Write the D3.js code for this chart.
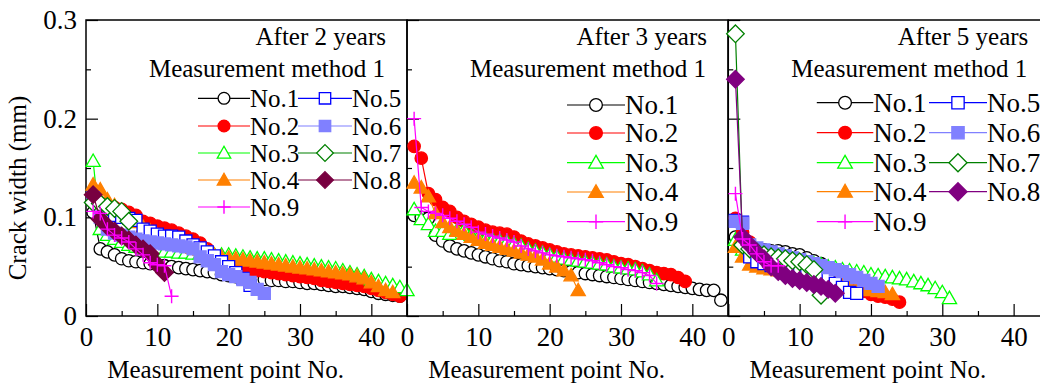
<!DOCTYPE html>
<html>
<head>
<meta charset="utf-8">
<script src="https://cdn.jsdelivr.net/npm/d3@7"></script>
<style>
  body { margin: 0; background: #fff; }
  svg { display: block; font-family: "Liberation Serif", "Times New Roman", serif; }
</style>
</head>
<body>
<svg id="chart" width="1040" height="385"></svg>
<script>
// axis ticks / labels
const xTicks = [0, 10, 20, 30, 40];
const xMinorTicks = [5, 15, 25, 35];
const yTicks = [0, 0.1, 0.2, 0.3];
const yMinorTicks = [0.05, 0.15, 0.25];
const yearLabels = ["After 2 years", "After 3 years", "After 5 years"];
const methodLabel = "Measurement method 1";
const xTitle = "Measurement point No.";
const yTitle = "Crack width (mm)";

// after 2 years (crack width, mm, point 1..n)
const y2No1 = [0.105,0.068,0.065,0.062,0.058,0.056,0.055,0.054,0.053,0.052,0.051,0.050,0.049,0.048,0.047,0.046,0.045,0.044,0.042,0.041,0.040,0.039,0.038,0.037,0.037,0.036,0.036,0.035,0.035,0.034,0.033,0.033,0.032,0.031,0.030,0.030,0.029,0.028,0.027,0.025,0.023,0.022,0.021,0.020];
const y2No2 = [0.120,0.115,0.112,0.110,0.108,0.105,0.102,0.096,0.094,0.091,0.089,0.087,0.084,0.081,0.078,0.074,0.068,0.060,0.055,0.052,0.050,0.048,0.047,0.046,0.045,0.044,0.043,0.042,0.041,0.040,0.039,0.038,0.036,0.035,0.034,0.033,0.032,0.031,0.030,0.028,0.026,0.024,0.022,0.020];
const y2No3 = [0.157,0.088,0.082,0.078,0.075,0.072,0.070,0.068,0.067,0.066,0.065,0.065,0.064,0.064,0.063,0.063,0.063,0.062,0.062,0.062,0.061,0.060,0.059,0.058,0.058,0.057,0.056,0.055,0.054,0.053,0.052,0.051,0.050,0.049,0.048,0.046,0.044,0.042,0.040,0.037,0.035,0.033,0.031,0.029,0.026];
const y2No4 = [0.133,0.128,0.118,0.112,0.106,0.100,0.095,0.090,0.086,0.082,0.079,0.076,0.073,0.071,0.069,0.067,0.065,0.062,0.060,0.059,0.058,0.057,0.056,0.055,0.054,0.053,0.052,0.051,0.050,0.049,0.048,0.047,0.046,0.045,0.044,0.043,0.042,0.040,0.038,0.034,0.030,0.026,0.024];
const y2No5 = [0.120,0.112,0.105,0.102,0.100,0.099,0.097,0.088,0.086,0.083,0.081,0.081,0.080,0.076,0.072,0.069,0.065,0.061,0.055,0.050,0.044,0.038,0.031];
const y2No6 = [0.120,0.100,0.088,0.084,0.082,0.080,0.078,0.076,0.075,0.074,0.073,0.072,0.071,0.070,0.068,0.060,0.056,0.052,0.045,0.042,0.040,0.037,0.034,0.027,0.023];
const y2No7 = [0.115,0.114,0.111,0.109,0.106,0.096];
const y2No8 = [0.123,0.098,0.091,0.086,0.081,0.077,0.072,0.068,0.063,0.052,0.044];
const y2No9 = [0.106,0.104,0.088,0.082,0.079,0.075,0.068,0.062,0.054,0.052,0.051,0.020];

// after 3 years
const y3No1 = [0.102,0.100,0.099,0.082,0.076,0.071,0.068,0.066,0.064,0.062,0.060,0.058,0.056,0.055,0.053,0.052,0.051,0.050,0.049,0.048,0.047,0.046,0.045,0.044,0.043,0.042,0.041,0.040,0.039,0.038,0.037,0.036,0.035,0.034,0.033,0.032,0.031,0.030,0.029,0.028,0.027,0.026,0.026,0.016];
const y3No2 = [0.172,0.160,0.124,0.118,0.110,0.106,0.100,0.096,0.093,0.090,0.087,0.085,0.084,0.083,0.080,0.076,0.073,0.071,0.069,0.067,0.065,0.063,0.062,0.061,0.060,0.059,0.058,0.057,0.055,0.053,0.052,0.050,0.048,0.046,0.044,0.043,0.042,0.039,0.035];
const y3No3 = [0.108,0.098,0.093,0.086,0.086,0.083,0.087,0.087,0.082,0.080,0.078,0.077,0.076,0.075,0.073,0.071,0.068,0.066,0.064,0.062,0.060,0.058,0.057,0.056,0.055,0.054,0.053,0.052,0.050,0.049,0.048,0.047,0.045,0.042,0.036];
const y3No4 = [0.135,0.130,0.121,0.104,0.095,0.090,0.086,0.083,0.080,0.077,0.074,0.072,0.070,0.068,0.066,0.064,0.062,0.060,0.057,0.053,0.050,0.046,0.041,0.026];
const y3No9 = [0.200,0.110,0.106,0.104,0.102,0.099,0.096,0.093,0.090,0.085,0.083,0.081,0.079,0.077,0.075,0.071,0.068,0.066,0.064,0.062,0.061,0.060,0.059,0.058,0.057,0.056,0.054,0.052,0.050,0.049,0.047,0.046,0.044,0.041,0.033];

// after 5 years
const y5No1 = [0.080,0.072,0.070,0.068,0.067,0.066,0.066,0.065,0.063,0.062,0.059,0.056,0.053];
const y5No2 = [0.099,0.085,0.075,0.068,0.064,0.060,0.057,0.054,0.051,0.049,0.046,0.044,0.042,0.039,0.037,0.034,0.032,0.028,0.025,0.022,0.020,0.019,0.017,0.014];
const y5No3 = [0.077,0.067,0.064,0.062,0.060,0.059,0.058,0.057,0.056,0.055,0.054,0.053,0.052,0.050,0.049,0.047,0.046,0.045,0.044,0.042,0.041,0.040,0.039,0.038,0.037,0.035,0.033,0.031,0.028,0.024,0.018];
const y5No4 = [0.070,0.060,0.052,0.050,0.048,0.047,0.046,0.044,0.043,0.042,0.040,0.039,0.037,0.036,0.034,0.032,0.030,0.029,0.027,0.026,0.025,0.024,0.022];
const y5No5 = [0.097,0.095,0.060,0.055,0.053,0.051,0.050,0.048,0.047,0.045,0.044,0.042,0.040,0.038,0.033,0.029,0.024,0.023];
const y5No6 = [0.096,0.094,0.072,0.069,0.067,0.065,0.063,0.061,0.059,0.057,0.055,0.053,0.051,0.049,0.047,0.045,0.042,0.039,0.036,0.033,0.030];
const y5No7 = [0.286,0.072,0.068,0.065,0.062,0.060,0.059,0.058,0.056,0.055,0.052,0.047,0.021];
const y5No8 = [0.240,0.080,0.072,0.064,0.058,0.050,0.045,0.041,0.038,0.036,0.034,0.032,0.030,0.027,0.023];
const y5No9 = [0.124,0.078,0.072,0.063,0.055,0.051,0.051];

const styles = {
  "No.1": { color: "#000000", shape: "circle", filled: false },
  "No.2": { color: "#ff0000", shape: "circle", filled: true },
  "No.3": { color: "#00ff00", shape: "triangle", filled: false },
  "No.4": { color: "#ff8000", shape: "triangle", filled: true },
  "No.5": { color: "#0000ff", shape: "square", filled: false },
  "No.6": { color: "#8080ff", shape: "square", filled: true },
  "No.7": { color: "#008000", shape: "diamond", filled: false },
  "No.8": { color: "#800080", shape: "diamond", filled: true },
  "No.9": { color: "#ff00ff", shape: "plus", filled: false }
};

const panels = [
  {
    left: 86, year: yearLabels[0], showY: true, no8: "#780040",
    series: { "No.1": y2No1, "No.2": y2No2, "No.3": y2No3, "No.4": y2No4, "No.5": y2No5,
              "No.6": y2No6, "No.7": y2No7, "No.8": y2No8, "No.9": y2No9 },
    legend: { font: 25, scale: 1, rows: [98.3, 126, 153, 180, 207],
              cols: [{ x1: 112, x2: 164, names: ["No.1", "No.2", "No.3", "No.4", "No.9"] },
                     { x1: 212, x2: 266, names: ["No.5", "No.6", "No.7", "No.8"] }] }
  },
  {
    left: 407, year: yearLabels[1], showY: false,
    series: { "No.1": y3No1, "No.2": y3No2, "No.3": y3No3, "No.4": y3No4, "No.9": y3No9 },
    legend: { font: 27, scale: 1.08, rows: [105, 133, 162.7, 192, 221.7],
              cols: [{ x1: 160, x2: 218, names: ["No.1", "No.2", "No.3", "No.4", "No.9"] }] }
  },
  {
    left: 728.3, year: yearLabels[2], showY: false,
    series: { "No.1": y5No1, "No.2": y5No2, "No.3": y5No3, "No.4": y5No4, "No.5": y5No5,
              "No.6": y5No6, "No.7": y5No7, "No.8": y5No8, "No.9": y5No9 },
    legend: { font: 27, scale: 1.08, rows: [102.7, 132.7, 162.7, 191.7, 221.7],
              cols: [{ x1: 88.5, x2: 145, names: ["No.1", "No.2", "No.3", "No.4", "No.9"] },
                     { x1: 200.7, x2: 258.7, names: ["No.5", "No.6", "No.7", "No.8"] }] }
  }
];

const plotTop = 20, plotBottom = 316, panelW = 321;
const svg = d3.select("#chart");

function markerPath(shape, s) {
  if (shape === "circle") { const r = 6.2 * s; return `M${r},0A${r},${r} 0 1,1 ${-r},0A${r},${r} 0 1,1 ${r},0Z`; }
  if (shape === "square") { const h = 6 * s; return `M${-h},${-h}H${h}V${h}H${-h}Z`; }
  if (shape === "triangle") { const a = 7.1 * s; return `M0,${-a}L${a},${a * 0.75}L${-a},${a * 0.75}Z`; }
  if (shape === "diamond") { const r = 8.8 * s; return `M0,${-r}L${r},0L0,${r}L${-r},0Z`; }
  const p = 7 * s; return `M${-p},0H${p}M0,${-p}V${p}`;
}

function drawMarker(g, name, color, cx, cy, s) {
  const st = styles[name];
  g.append("path")
    .attr("d", markerPath(st.shape, s))
    .attr("transform", `translate(${cx},${cy})`)
    .attr("fill", st.shape === "plus" ? "none" : (st.filled ? color : "#fff"))
    .attr("stroke", color)
    .attr("stroke-width", st.shape === "plus" ? 1.4 : 1.3);
}

panels.forEach(p => {
  const x = d3.scaleLinear().domain([0, 45]).range([p.left, p.left + panelW]);
  const y = d3.scaleLinear().domain([0, 0.3]).range([plotBottom, plotTop]);
  const g = svg.append("g");

  // box
  g.append("rect")
    .attr("x", p.left).attr("y", plotTop)
    .attr("width", panelW).attr("height", plotBottom - plotTop)
    .attr("fill", "none").attr("stroke", "#000").attr("stroke-width", 1.5);

  // x axis (inward ticks)
  g.append("g")
    .attr("transform", `translate(0,${plotBottom})`)
    .call(d3.axisBottom(x).tickValues(xTicks).tickSize(-12).tickSizeOuter(0).tickPadding(11));
  g.append("g")
    .attr("transform", `translate(0,${plotBottom})`)
    .call(d3.axisBottom(x).tickValues(xMinorTicks).tickSize(-5).tickSizeOuter(0).tickFormat(""));

  // y axis
  g.append("g")
    .attr("transform", `translate(${p.left},0)`)
    .call(d3.axisLeft(y).tickValues(yTicks).tickSize(-12).tickSizeOuter(0).tickPadding(9)
      .tickFormat(d => p.showY ? (d === 0 ? "0" : d.toFixed(1)) : ""));
  g.append("g")
    .attr("transform", `translate(${p.left},0)`)
    .call(d3.axisLeft(y).tickValues(yMinorTicks).tickSize(-5).tickSizeOuter(0).tickFormat(""));

  g.selectAll(".domain").remove();
  g.selectAll(".tick line").attr("stroke", "#000").attr("stroke-width", 1.2);
  g.selectAll(".tick text")
    .attr("fill", "#000")
    .style("font-family", "'Liberation Serif', 'Times New Roman', serif")
    .style("font-size", "27px");

  // x title
  g.append("text")
    .attr("x", x(20) - 3).attr("y", 378)
    .attr("text-anchor", "middle")
    .style("font-size", "25px")
    .text(xTitle);

  // annotations
  g.append("text")
    .attr("x", p.left + 300).attr("y", 45)
    .attr("text-anchor", "end").style("font-size", "25px")
    .text(p.year);
  g.append("text")
    .attr("x", p.left + 299).attr("y", 76.5)
    .attr("text-anchor", "end").style("font-size", "25px")
    .text(methodLabel);

  // series
  const line = d3.line().x((d, i) => x(i + 1)).y(d => y(d));
  Object.keys(p.series).forEach(name => {
    const vals = p.series[name];
    const color = name === "No.8" && p.no8 ? p.no8 : styles[name].color;
    const sg = g.append("g");
    sg.append("path")
      .datum(vals)
      .attr("d", line)
      .attr("fill", "none")
      .attr("stroke", color)
      .attr("stroke-width", 1.2);
    vals.forEach((v, i) => drawMarker(sg, name, color, x(i + 1), y(v), 1));
  });

  // legend
  const lg = p.legend;
  lg.cols.forEach(c => {
    c.names.forEach((name, k) => {
      const ly = lg.rows[k];
      const color = name === "No.8" && p.no8 ? p.no8 : styles[name].color;
      g.append("line")
        .attr("x1", p.left + c.x1).attr("x2", p.left + c.x2)
        .attr("y1", ly).attr("y2", ly)
        .attr("stroke", color).attr("stroke-width", 1.2);
      drawMarker(g, name, color, p.left + (c.x1 + c.x2) / 2, ly, lg.scale * 0.95);
      g.append("text")
        .attr("x", p.left + c.x2).attr("y", ly + lg.font * 0.34)
        .style("font-size", lg.font + "px")
        .text(name);
    });
  });
});

// y title
svg.append("text")
  .attr("transform", "translate(26,188) rotate(-90)")
  .attr("text-anchor", "middle")
  .style("font-size", "25px")
  .text(yTitle);
</script>
</body>
</html>
